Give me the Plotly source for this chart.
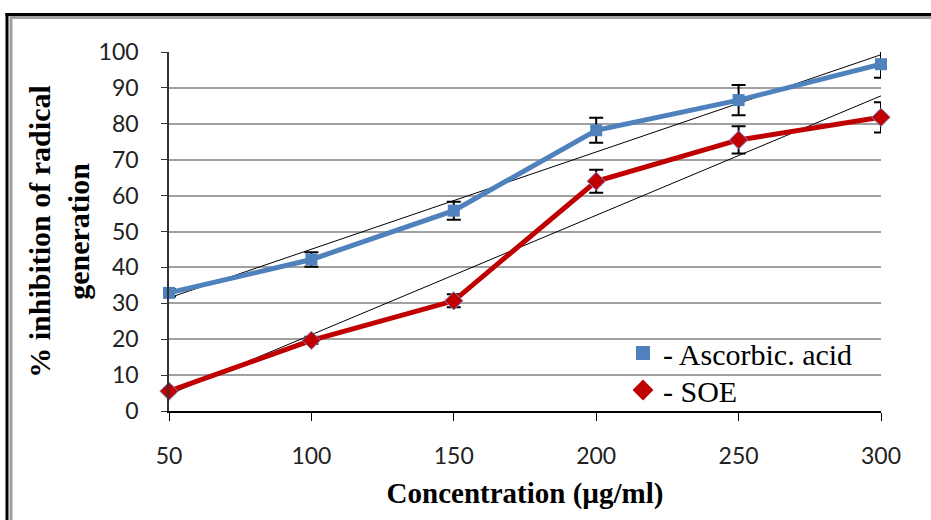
import numpy as np
import plotly.graph_objects as go

concentration = [50, 100, 150, 200, 250, 300]
ascorbic = [32.9, 42.2, 55.8, 78.2, 86.6, 96.6]
ascorbic_err = [1.0, 2.0, 2.5, 3.5, 4.2, 3.8]
soe = [5.5, 19.7, 30.7, 64.0, 75.5, 81.8]
soe_err = [0.5, 1.0, 1.8, 3.2, 3.8, 4.2]
y_ticks = [0, 10, 20, 30, 40, 50, 60, 70, 80, 90, 100]
x_ticks = [50, 100, 150, 200, 250, 300]

BLUE = "#4f81bd"
RED = "#c00000"

W, H = 931, 520
L, R, T, B = 169, 50, 52, 109
PW, PH = W - L - R, H - T - B


def px_x(p):
    return (p - L) / PW


def px_y(p):
    return (H - B - p) / PH


fig = go.Figure()

# linear trend lines (derived from the data)
for ys in (ascorbic, soe):
    k, b = np.polyfit(concentration, ys, 1)
    xs = [concentration[0], concentration[-1]]
    fig.add_trace(go.Scatter(x=xs, y=[k * v + b for v in xs], mode="lines",
                             line=dict(color="black", width=1), showlegend=False,
                             hoverinfo="skip", cliponaxis=False))

fig.add_trace(go.Scatter(
    x=concentration, y=ascorbic, mode="lines+markers", showlegend=False,
    line=dict(color=BLUE, width=5), cliponaxis=False,
    marker=dict(symbol="square", size=12, color=BLUE),
    error_y=dict(type="data", array=ascorbic_err, color="black", thickness=2, width=7)))
fig.add_trace(go.Scatter(
    x=concentration, y=soe, mode="lines+markers", showlegend=False,
    line=dict(color=RED, width=5), cliponaxis=False,
    marker=dict(symbol="diamond", size=14, color=RED, line=dict(color="#7a86c8", width=1)),
    error_y=dict(type="data", array=soe_err, color="black", thickness=2, width=7)))

# legend entries (marker only), each in its own legend box for exact spacing
fig.add_trace(go.Scatter(x=[None], y=[None], mode="markers", name="- Ascorbic. acid",
                         legend="legend",
                         marker=dict(symbol="square", size=14, color=BLUE)))
fig.add_trace(go.Scatter(x=[None], y=[None], mode="markers", name="- SOE",
                         legend="legend2",
                         marker=dict(symbol="diamond", size=16, color=RED)))

legend_font = dict(family="Liberation Serif", size=30, color="black")

fig.update_layout(
    width=W, height=H,
    margin=dict(l=L, r=R, t=T, b=B),
    paper_bgcolor="white", plot_bgcolor="white",
    showlegend=True,
    legend=dict(x=px_x(623), y=px_y(327), xanchor="left", yanchor="top",
                bgcolor="rgba(0,0,0,0)", font=legend_font),
    legend2=dict(x=px_x(623), y=px_y(364), xanchor="left", yanchor="top",
                 bgcolor="rgba(0,0,0,0)", font=legend_font),
    xaxis=dict(range=[50, 300], tickvals=x_ticks, showgrid=False, zeroline=False,
               showline=True, linecolor="black", linewidth=1.5,
               ticks="outside", ticklen=8, tickcolor="black", tickwidth=1,
               ticklabelstandoff=16,
               tickfont=dict(family="Lato", size=23, color="#222"),
               title=dict(text="<b>Concentration (µg/ml)</b>", standoff=14,
                          font=dict(family="Liberation Serif", size=29, color="black"))),
    yaxis=dict(range=[0, 100], tickvals=y_ticks, showgrid=True, gridcolor="#a0a0a0",
               gridwidth=1.5, zeroline=False, showline=True, linecolor="#333",
               linewidth=1.5, ticks="outside", ticklen=6, tickcolor="#333",
               ticklabelstandoff=18,
               tickfont=dict(family="Lato", size=23, color="#222"),
               title=dict(text="<b>% inhibition of radical<br>generation</b>", standoff=0,
                          font=dict(family="Liberation Serif", size=30, color="black"))),
    shapes=[
        dict(type="line", xref="paper", yref="paper", x0=px_x(5.5), x1=px_x(W + 5),
             y0=px_y(14.5), y1=px_y(14.5), line=dict(color="black", width=3)),
        dict(type="line", xref="paper", yref="paper", x0=px_x(7), x1=px_x(7),
             y0=px_y(13), y1=px_y(H + 5), line=dict(color="black", width=3)),
        dict(type="line", xref="paper", yref="paper", x0=px_x(10), x1=px_x(W + 5),
             y0=px_y(17.5), y1=px_y(17.5), line=dict(color="#a0a0a0", width=3)),
        dict(type="line", xref="paper", yref="paper", x0=px_x(11), x1=px_x(11),
             y0=px_y(16), y1=px_y(H + 5), line=dict(color="#a0a0a0", width=3)),
    ],
)

fig.write_html("out.html", config={"displayModeBar": False},
               post_script="document.body.style.margin='0px';")
